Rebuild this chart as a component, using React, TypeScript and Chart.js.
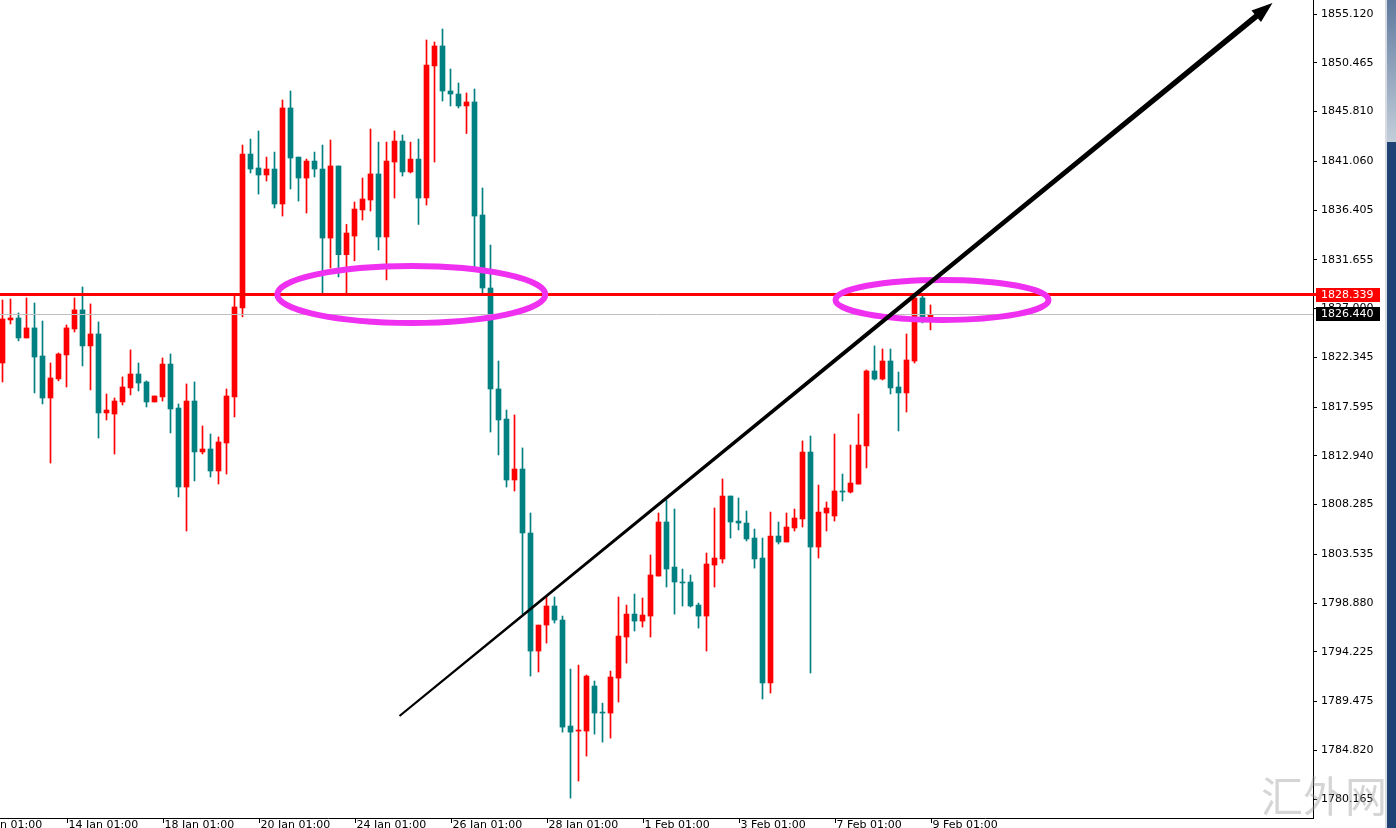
import React, { useEffect, useRef } from "react";
import { Chart, registerables } from "chart.js";

Chart.register(...registerables);

// ---- data (4H candles) ----
const opens = [
  1821.80, 1825.91, 1826.10, 1824.19, 1825.15, 1822.47, 1818.46, 1820.28, 1822.57, 1825.05,
  1826.87, 1823.43, 1824.57, 1817.03, 1816.93, 1818.08, 1819.42, 1820.75, 1819.99, 1818.08,
  1818.56, 1821.70, 1817.50, 1809.96, 1818.17, 1813.31, 1813.59, 1811.49, 1814.16, 1818.56,
  1827.06, 1841.75, 1840.42, 1839.75, 1840.32, 1836.98, 1846.15, 1841.46, 1839.46, 1841.08,
  1840.32, 1833.73, 1840.61, 1832.14, 1833.92, 1836.41, 1837.36, 1839.85, 1833.83, 1840.99,
  1842.99, 1840.04, 1841.27, 1837.55, 1850.16, 1852.07, 1847.77, 1847.48, 1846.34, 1846.72,
  1835.93, 1828.96, 1819.32, 1816.45, 1810.63, 1811.68, 1805.57, 1794.30, 1796.78, 1798.60,
  1797.26, 1787.14, 1786.66, 1786.66, 1790.96, 1788.47, 1788.38, 1791.72, 1795.64, 1797.83,
  1797.16, 1797.64, 1801.46, 1806.62, 1802.32, 1800.89, 1800.89, 1798.69, 1797.64, 1802.51,
  1803.09, 1809.10, 1806.71, 1806.52, 1805.09, 1803.18, 1791.25, 1805.28, 1804.71, 1806.05,
  1806.91, 1813.30, 1804.23, 1807.48, 1807.19, 1809.58, 1809.48, 1810.24, 1813.88, 1821.04,
  1820.27, 1821.99, 1819.51, 1818.94, 1821.99, 1828.01, 1825.91,
];
const highs = [
  1827.82, 1827.91, 1826.58, 1828.01, 1827.53, 1825.81, 1821.80, 1822.76, 1825.43, 1828.01,
  1829.06, 1827.44, 1825.72, 1818.84, 1818.46, 1820.47, 1823.05, 1821.80, 1820.09, 1818.65,
  1822.28, 1822.66, 1817.89, 1819.80, 1819.99, 1815.79, 1815.02, 1814.74, 1819.32, 1828.30,
  1842.61, 1843.18, 1843.95, 1841.46, 1841.94, 1846.91, 1847.77, 1841.46, 1841.27, 1841.94,
  1842.61, 1843.09, 1840.61, 1835.03, 1837.17, 1839.46, 1844.14, 1842.89, 1842.89, 1843.95,
  1843.57, 1842.89, 1843.18, 1852.64, 1852.45, 1853.69, 1849.87, 1848.53, 1847.58, 1847.96,
  1838.51, 1833.06, 1821.99, 1817.31, 1816.84, 1813.69, 1807.48, 1796.78, 1799.46, 1799.46,
  1797.64, 1792.58, 1792.96, 1792.01, 1791.44, 1789.33, 1792.39, 1799.46, 1798.69, 1799.74,
  1799.36, 1803.47, 1807.48, 1808.72, 1807.86, 1802.13, 1801.56, 1798.88, 1803.66, 1807.96,
  1810.73, 1809.10, 1808.91, 1807.67, 1805.95, 1805.09, 1807.57, 1806.62, 1807.48, 1807.86,
  1814.36, 1814.83, 1810.15, 1808.53, 1815.02, 1811.20, 1813.97, 1816.93, 1821.14, 1823.43,
  1823.14, 1823.14, 1820.94, 1824.57, 1828.48, 1828.20, 1827.34,
];
const lows = [
  1819.99, 1825.53, 1823.91, 1824.19, 1818.94, 1817.89, 1812.25, 1820.09, 1819.51, 1824.76,
  1821.52, 1819.23, 1814.64, 1816.36, 1813.11, 1817.79, 1818.75, 1819.13, 1817.60, 1818.08,
  1818.17, 1815.12, 1809.01, 1805.76, 1810.54, 1813.11, 1810.92, 1810.25, 1811.20, 1816.65,
  1826.20, 1839.94, 1837.93, 1839.18, 1836.60, 1835.83, 1838.41, 1837.26, 1836.12, 1839.56,
  1828.48, 1830.87, 1830.01, 1828.48, 1831.56, 1835.45, 1836.31, 1832.59, 1829.73, 1837.55,
  1839.65, 1839.94, 1835.03, 1836.88, 1840.99, 1846.81, 1846.34, 1846.15, 1843.71, 1830.97,
  1828.48, 1815.21, 1813.02, 1809.96, 1809.58, 1797.83, 1791.91, 1792.30, 1795.06, 1796.97,
  1786.56, 1780.26, 1781.89, 1784.27, 1786.37, 1785.61, 1785.99, 1789.43, 1793.15, 1796.21,
  1796.59, 1795.64, 1801.46, 1800.41, 1797.83, 1798.60, 1798.50, 1796.49, 1794.30, 1800.41,
  1802.70, 1805.09, 1805.86, 1804.81, 1802.22, 1789.72, 1790.29, 1804.52, 1804.71, 1805.76,
  1806.14, 1792.20, 1803.18, 1805.76, 1806.71, 1808.62, 1809.39, 1810.24, 1811.78, 1820.18,
  1820.18, 1818.84, 1815.31, 1817.12, 1821.80, 1825.63, 1824.96,
];
const closes = [
  1826.01, 1826.10, 1824.19, 1825.15, 1822.37, 1818.46, 1820.37, 1822.66, 1825.15, 1826.87,
  1823.43, 1824.57, 1817.03, 1817.31, 1818.17, 1819.51, 1820.75, 1819.89, 1818.08, 1818.65,
  1821.70, 1817.41, 1809.96, 1818.17, 1813.31, 1813.59, 1811.49, 1814.26, 1818.65, 1827.15,
  1841.75, 1840.32, 1839.75, 1840.32, 1836.98, 1846.15, 1841.37, 1839.46, 1841.08, 1840.32,
  1833.73, 1840.61, 1832.14, 1834.21, 1836.50, 1837.46, 1839.85, 1833.83, 1841.08, 1842.99,
  1840.04, 1841.27, 1837.55, 1850.25, 1852.07, 1847.77, 1847.48, 1846.34, 1846.72, 1835.83,
  1828.96, 1819.32, 1816.36, 1810.63, 1811.68, 1805.57, 1794.30, 1796.78, 1798.60, 1797.26,
  1787.04, 1786.56, 1786.75, 1791.91, 1788.38, 1788.38, 1791.82, 1795.73, 1797.83, 1797.16,
  1797.74, 1801.56, 1806.62, 1802.13, 1800.89, 1800.80, 1798.60, 1797.64, 1802.61, 1803.18,
  1809.10, 1806.62, 1806.52, 1805.00, 1803.09, 1791.25, 1805.28, 1804.71, 1806.14, 1807.00,
  1813.30, 1804.23, 1807.57, 1807.96, 1809.58, 1809.48, 1810.34, 1813.97, 1821.04, 1820.27,
  1821.99, 1819.42, 1818.94, 1822.09, 1828.01, 1825.91, 1826.44,
];

const yTickValues = [
  1855.12, 1850.465, 1845.81, 1841.06, 1836.405, 1831.655, 1827.0, 1822.345,
  1817.595, 1812.94, 1808.285, 1803.535, 1798.88, 1794.225, 1789.475, 1784.82, 1780.165,
];
const xTickIndex = [-4, 8, 20, 32, 44, 56, 68, 80, 92, 104, 116];
const xTickLabels = [
  "12 Jan 01:00", "14 Jan 01:00", "18 Jan 01:00", "20 Jan 01:00", "24 Jan 01:00",
  "26 Jan 01:00", "28 Jan 01:00", "1 Feb 01:00", "3 Feb 01:00", "7 Feb 01:00", "9 Feb 01:00",
];

const levelPrice = 1828.339;
const bidPrice = 1826.44;
// trend arrow: [index, price]
const trendStart = [49.625, 1788.1];
const trendEnd = [158.75, 1856.17];
// ellipses: [centerIndex, centerPrice, radiusIndex, radiusPrice]
const ellipseA = [51.1, 1828.34, 16.75, 2.72];
const ellipseB = [117.44, 1827.82, 13.31, 1.91];

const UP = "#ff0000";
const DOWN = "#008080";
const MAGENTA = "#f030f0";
const FONT = '"DejaVu Sans", Tahoma, sans-serif';

export default function App() {
  const ref = useRef<HTMLCanvasElement>(null);

  useEffect(() => {
    const canvas = ref.current;
    if (!canvas) return;
    const idx = opens.map((_, i) => i);
    const colors = idx.map((i) => (closes[i] >= opens[i] ? UP : DOWN));

    const overlay = {
      id: "overlay",
      afterDraw(chart: any) {
        const ctx = chart.ctx as CanvasRenderingContext2D;
        const xs = chart.scales.x;
        const ys = chart.scales.y;
        const ca = chart.chartArea;
        const px = (v: number) => xs.getPixelForValue(v);
        const py = (v: number) => ys.getPixelForValue(v);
        ctx.save();

        ctx.beginPath();
        ctx.rect(ca.left, ca.top, ca.right - ca.left, ca.bottom - ca.top);
        ctx.save();
        ctx.clip();
        // bid line (thin gray)
        const by = Math.round(py(bidPrice)) + 0.5;
        ctx.strokeStyle = "#c0c0c0";
        ctx.lineWidth = 1;
        ctx.beginPath();
        ctx.moveTo(ca.left, by);
        ctx.lineTo(ca.right, by);
        ctx.stroke();

        // red level line
        const ly = py(levelPrice);
        ctx.strokeStyle = "#ff0000";
        ctx.lineWidth = 3;
        ctx.beginPath();
        ctx.moveTo(ca.left, ly);
        ctx.lineTo(ca.right, ly);
        ctx.stroke();

        // ellipses
        ctx.strokeStyle = MAGENTA;
        ctx.lineWidth = 6;
        [ellipseA, ellipseB].forEach((e) => {
          const cx = px(e[0]);
          const cy = py(e[1]);
          const rx = Math.abs(px(e[0] + e[2]) - cx);
          const ry = Math.abs(py(e[1] + e[3]) - cy);
          ctx.beginPath();
          ctx.ellipse(cx, cy, rx, ry, 0, 0, Math.PI * 2);
          ctx.stroke();
        });

        // tapered trend arrow
        const sx = px(trendStart[0]);
        const sy = py(trendStart[1]);
        const ex = px(trendEnd[0]);
        const ey = py(trendEnd[1]);
        const dx = ex - sx;
        const dy = ey - sy;
        const len = Math.hypot(dx, dy);
        const ux = dx / len;
        const uy = dy / len;
        const nx = -uy;
        const ny = ux;
        const headLen = 21;
        const headHalf = 7.5;
        const w0 = 1.1;
        const w1 = 2.8;
        const bx = ex - ux * headLen;
        const byy = ey - uy * headLen;
        ctx.fillStyle = "#000";
        ctx.beginPath();
        ctx.moveTo(sx + nx * w0, sy + ny * w0);
        ctx.lineTo(bx + nx * w1, byy + ny * w1);
        ctx.lineTo(bx + nx * headHalf, byy + ny * headHalf);
        ctx.lineTo(ex, ey);
        ctx.lineTo(bx - nx * headHalf, byy - ny * headHalf);
        ctx.lineTo(bx - nx * w1, byy - ny * w1);
        ctx.lineTo(sx - nx * w0, sy - ny * w0);
        ctx.closePath();
        ctx.fill();
        ctx.restore();

        // red line stub into axis
        ctx.strokeStyle = "#ff0000";
        ctx.lineWidth = 3;
        ctx.beginPath();
        ctx.moveTo(ca.right, ly);
        ctx.lineTo(ca.right + 4, ly);
        ctx.stroke();

        // price boxes on axis
        ctx.font = `11px ${FONT}`;
        ctx.textBaseline = "middle";
        ctx.textAlign = "left";
        const boxL = ca.right + 3;
        const boxW = 64;
        ctx.fillStyle = "#ff0000";
        ctx.fillRect(boxL, Math.round(ly) - 7, boxW, 14);
        ctx.fillStyle = "#ffffff";
        ctx.fillText(levelPrice.toFixed(3), ca.right + 8, Math.round(ly) + 0.5);
        const bcy = Math.round(py(bidPrice));
        ctx.fillStyle = "#000000";
        ctx.fillRect(boxL, bcy - 7, boxW, 14);
        ctx.fillStyle = "#ffffff";
        ctx.fillText(bidPrice.toFixed(3), ca.right + 8, bcy + 0.5);

        // bottom axis line, ticks and labels
        const bY = ca.bottom + 0.5;
        ctx.strokeStyle = "#000";
        ctx.lineWidth = 1;
        ctx.beginPath();
        ctx.moveTo(0, bY);
        ctx.lineTo(ca.right + 1, bY);
        ctx.stroke();
        ctx.fillStyle = "#000";
        ctx.textBaseline = "top";
        xTickIndex.forEach((v, k) => {
          const x = Math.round(px(v)) + 0.5;
          ctx.beginPath();
          ctx.moveTo(x, ca.bottom);
          ctx.lineTo(x, ca.bottom + 5);
          ctx.stroke();
          ctx.fillText(xTickLabels[k], x + 1, ca.bottom + 2);
        });

        // right scroll strip
        ctx.fillStyle = "#d8dce2";
        ctx.fillRect(1385, 0, 2, 828);
        const g = ctx.createLinearGradient(0, 0, 0, 142);
        g.addColorStop(0, "#5f7a9e");
        g.addColorStop(1, "#c3ceda");
        ctx.fillStyle = g;
        ctx.fillRect(1387, 0, 9, 142);
        ctx.fillStyle = "#1f4374";
        ctx.fillRect(1387, 142, 9, 686);

        // watermark
        ctx.font = `42px "Noto Sans CJK SC", sans-serif`;
        ctx.textBaseline = "alphabetic";
        ctx.fillStyle = "rgba(150,150,150,0.4)";
        ctx.fillText("汇外网", 1261, 812);

        ctx.restore();
      },
    };

    const chart = new Chart(canvas, {
      type: "bar",
      data: {
        datasets: [
          {
            label: "wick",
            data: idx.map((i) => ({ x: i, y: [lows[i], highs[i]] })) as any,
            backgroundColor: colors,
            barThickness: 1,
            grouped: false,
            order: 2,
          } as any,
          {
            label: "body",
            data: idx.map((i) => ({ x: i, y: [opens[i], closes[i]] })) as any,
            backgroundColor: colors,
            barThickness: 5,
            minBarLength: 1,
            grouped: false,
            order: 1,
          } as any,
        ],
      },
      options: {
        responsive: false,
        animation: false,
        devicePixelRatio: 1,
        layout: { padding: { left: 0, right: 0, top: 0, bottom: 10 } },
        plugins: { legend: { display: false }, tooltip: { enabled: false } },
        scales: {
          x: {
            type: "linear",
            display: false,
            min: -0.3125,
            max: 163.8125,
            offset: false,
            grid: { offset: false },
          },
          y: {
            position: "right",
            min: 1778.36,
            max: 1856.457,
            afterBuildTicks: (scale: any) => {
              scale.ticks = yTickValues.map((v) => ({ value: v }));
            },
            afterFit: (scale: any) => {
              scale.width = 83;
              scale.paddingTop = 0;
              scale.paddingBottom = 0;
            },
            ticks: {
              autoSkip: false,
              padding: 4,
              color: "#000",
              font: { family: FONT, size: 11 },
              callback: (v: any) => Number(v).toFixed(3),
            },
            grid: {
              drawOnChartArea: false,
              drawTicks: true,
              tickLength: 4,
              tickColor: "#000",
              color: "#000",
            },
            border: { display: true, color: "#000", width: 1 },
          },
        },
      } as any,
      plugins: [overlay],
    });
    return () => chart.destroy();
  }, []);

  return (
    <div
      style={{
        position: "fixed",
        left: 0,
        top: 0,
        width: 1396,
        height: 828,
        background: "#ffffff",
        overflow: "hidden",
      }}
    >
      <canvas ref={ref} width={1396} height={828} style={{ display: "block" }} />
    </div>
  );
}
